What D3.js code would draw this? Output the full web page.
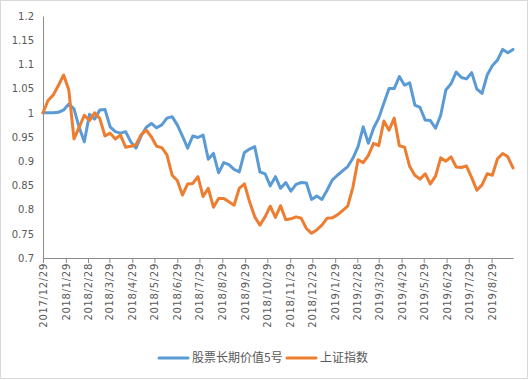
<!DOCTYPE html>
<html><head><meta charset="utf-8">
<script src="https://cdn.jsdelivr.net/npm/d3@7"></script>
<style>
html,body{margin:0;padding:0;background:#fff;}
svg{display:block;}
</style></head>
<body>
<svg id="chart" width="529" height="380"></svg>
<script>
const dates = ["2017-12-29","2018-01-05","2018-01-12","2018-01-19","2018-01-26","2018-02-02","2018-02-09","2018-02-16","2018-02-23","2018-03-02","2018-03-09","2018-03-16","2018-03-23","2018-03-30","2018-04-06","2018-04-13","2018-04-20","2018-04-27","2018-05-04","2018-05-11","2018-05-18","2018-05-25","2018-06-01","2018-06-08","2018-06-15","2018-06-22","2018-06-29","2018-07-06","2018-07-13","2018-07-20","2018-07-27","2018-08-03","2018-08-10","2018-08-17","2018-08-24","2018-08-31","2018-09-07","2018-09-14","2018-09-21","2018-09-28","2018-10-05","2018-10-12","2018-10-19","2018-10-26","2018-11-02","2018-11-09","2018-11-16","2018-11-23","2018-11-30","2018-12-07","2018-12-14","2018-12-21","2018-12-28","2019-01-04","2019-01-11","2019-01-18","2019-01-25","2019-02-01","2019-02-08","2019-02-15","2019-02-22","2019-03-01","2019-03-08","2019-03-15","2019-03-22","2019-03-29","2019-04-05","2019-04-12","2019-04-19","2019-04-26","2019-05-03","2019-05-10","2019-05-17","2019-05-24","2019-05-31","2019-06-07","2019-06-14","2019-06-21","2019-06-28","2019-07-05","2019-07-12","2019-07-19","2019-07-26","2019-08-02","2019-08-09","2019-08-16","2019-08-23","2019-08-30","2019-09-06","2019-09-13","2019-09-20","2019-09-27"];

const fundValues = [1.000,1.000,1.000,1.001,1.006,1.018,1.008,0.970,0.940,0.997,0.987,1.006,1.007,0.971,0.961,0.958,0.961,0.940,0.927,0.952,0.970,0.978,0.969,0.975,0.989,0.992,0.975,0.952,0.927,0.952,0.949,0.954,0.904,0.916,0.876,0.897,0.893,0.883,0.878,0.918,0.925,0.930,0.878,0.874,0.849,0.868,0.844,0.856,0.838,0.852,0.856,0.855,0.821,0.828,0.821,0.840,0.861,0.871,0.880,0.889,0.906,0.930,0.971,0.937,0.968,0.989,1.020,1.050,1.050,1.075,1.057,1.062,1.016,1.011,0.985,0.984,0.968,0.995,1.047,1.060,1.084,1.073,1.070,1.083,1.049,1.040,1.078,1.097,1.109,1.131,1.124,1.131];

const indexValues = [1.000,1.026,1.037,1.057,1.078,1.047,0.946,0.970,0.995,0.984,1.000,0.988,0.952,0.958,0.946,0.954,0.929,0.931,0.934,0.955,0.964,0.950,0.931,0.928,0.913,0.871,0.860,0.830,0.853,0.854,0.868,0.827,0.844,0.805,0.823,0.823,0.816,0.809,0.844,0.853,0.816,0.785,0.768,0.785,0.807,0.784,0.808,0.779,0.781,0.785,0.782,0.761,0.751,0.758,0.768,0.782,0.783,0.789,0.798,0.807,0.846,0.903,0.897,0.912,0.937,0.932,0.983,0.964,0.989,0.932,0.929,0.889,0.871,0.863,0.874,0.853,0.869,0.907,0.900,0.909,0.888,0.887,0.890,0.866,0.840,0.851,0.874,0.871,0.905,0.916,0.909,0.886];

const seriesNames = ["股票长期价值5号","上证指数"];
const seriesColors = ["#5B9BD5","#ED7D31"];

const xTickLabels = ["2017/12/29","2018/1/29","2018/2/28","2018/3/29","2018/4/29","2018/5/29","2018/6/29","2018/7/29","2018/8/29","2018/9/29","2018/10/29","2018/11/29","2018/12/29","2019/1/29","2019/2/28","2019/3/29","2019/4/29","2019/5/29","2019/6/29","2019/7/29","2019/8/29"];
const yTicks = [0.7,0.75,0.8,0.85,0.9,0.95,1,1.05,1.1,1.15,1.2];

const parseD = d3.timeParse("%Y-%m-%d");
const parseT = d3.timeParse("%Y/%m/%d");
const xDates = dates.map(parseD);
const tickDates = xTickLabels.map(parseT);

const svg = d3.select("#chart");
svg.append("rect").attr("x",0.5).attr("y",0.5).attr("width",527).attr("height",378)
  .attr("fill","#fff").attr("stroke","#d9d9d9");

const mLeft = 43, mRight = 513, mTop = 16, mBottom = 258;
const x = d3.scaleTime().domain([xDates[0], xDates[xDates.length-1]]).range([mLeft, mRight]);
const y = d3.scaleLinear().domain([0.7,1.2]).range([mBottom, mTop]);

const axisColor = "#8c8c8c", textColor = "#595959";
const tickFont = "'DejaVu Sans', sans-serif";

// Y axis
const yAxis = svg.append("g").attr("transform",`translate(${mLeft},0)`)
  .call(d3.axisLeft(y).tickValues(yTicks).tickSize(0).tickPadding(9).tickFormat(d3.format("~g")));
yAxis.select(".domain").attr("stroke",axisColor).attr("stroke-width",1);
yAxis.selectAll("text").attr("fill",textColor).style("font-family",tickFont).style("font-size","10px");

// X axis
const xAxis = svg.append("g").attr("transform",`translate(0,${mBottom})`)
  .call(d3.axisBottom(x).tickValues(tickDates).tickSizeInner(5).tickSizeOuter(0)
    .tickFormat((d,i)=>xTickLabels[i]));
xAxis.select(".domain").attr("stroke",axisColor).attr("stroke-width",1);
xAxis.selectAll(".tick line").attr("stroke",axisColor);
xAxis.selectAll("text")
  .attr("transform","rotate(-90)")
  .attr("x",-5).attr("y",0).attr("dy","0.35em")
  .attr("text-anchor","end")
  .attr("fill",textColor)
  .style("font-family",tickFont).style("font-size","10px").style("letter-spacing","0.7px");

// lines
const line = d3.line().x((d,i)=>x(xDates[i])).y(d=>y(d));
[fundValues, indexValues].forEach((vals,k)=>{
  svg.append("path").datum(vals)
    .attr("d",line).attr("fill","none")
    .attr("stroke",seriesColors[k]).attr("stroke-width",3)
    .attr("stroke-linejoin","round").attr("stroke-linecap","round");
});

// legend
const legend = svg.append("g").style("font-family","'Noto Sans CJK SC', sans-serif").style("font-size","12px");
const legendItems = [{x:159, tx:192},{x:287, tx:320}];
legendItems.forEach((p,k)=>{
  legend.append("line").attr("x1",p.x).attr("x2",p.x+29).attr("y1",358).attr("y2",358)
    .attr("stroke",seriesColors[k]).attr("stroke-width",3).attr("stroke-linecap","round");
  legend.append("text").attr("x",p.tx).attr("y",358).attr("dy","0.35em")
    .attr("fill",textColor).text(seriesNames[k]);
});
</script>
</body></html>
